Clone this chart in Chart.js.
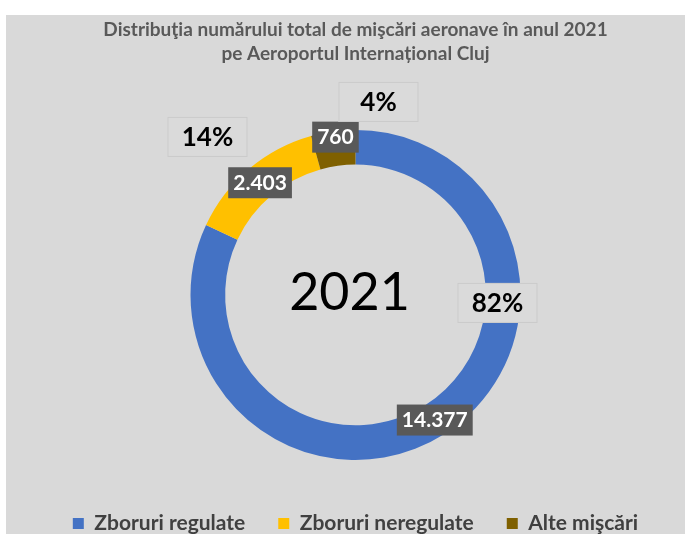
<!DOCTYPE html>
<html>
<head>
<meta charset="utf-8">
<script src="https://cdn.jsdelivr.net/npm/chart.js@4.4.0/dist/chart.umd.min.js"></script>
<style>
  html, body { margin: 0; padding: 0; background: #ffffff; }
  #wrap { position: absolute; left: 6px; top: 15px; width: 679px; height: 519px; background: #d9d9d9; }
</style>
</head>
<body>
<div id="wrap"><canvas id="chart"></canvas></div>
<script>
/* --------------- Data --------------------- */
const categories = ["Zboruri regulate", "Zboruri neregulate", "Alte mişcări"];
const movements = [14377, 2403, 760];
const yearLabel = "2021";
const sliceColors = ["#4472C4", "#FFC000", "#7F6000"];
const titleLines = [
  "Distribuţia numărului total de mişcări aeronave în anul 2021",
  "pe Aeroportul Internațional Cluj"
];

/* --------------- Helpers --------------------- */
const fmtRo = (v) => String(v).replace(/\B(?=(\d{3})+(?!\d))/g, ".");
const total = movements.reduce((a, b) => a + b, 0);
const pct = (v) => Math.round((v / total) * 100) + "%";

// where the percentage callouts sit, relative to the doughnut centre
const pctOffsets = [[142, 8], [-148, -158], [23, -193]];
// small nudges of the value boxes (Excel moved the tiny one up a bit)
const valueNudge = [[0, 0], [0, 0], [0, -12]];

/* --------------- Labels plugin --------------------- */
const donutLabels = {
  id: "donutLabels",
  afterDatasetsDraw(chart) {
    const ctx = chart.ctx;
    const meta = chart.getDatasetMeta(0);
    const cx = (chart.chartArea.left + chart.chartArea.right) / 2;
    const cy = (chart.chartArea.top + chart.chartArea.bottom) / 2;
    ctx.save();
    ctx.textAlign = "center";
    ctx.textBaseline = "middle";

    // year in the hole
    ctx.fillStyle = "#000000";
    ctx.font = "52px Lato";
    ctx.fillText(yearLabel, cx - 6, cy - 2);

    meta.data.forEach((arc, i) => {
      const v = movements[i];
      // value box on the ring
      const p = arc.tooltipPosition();
      p.x += valueNudge[i][0];
      p.y += valueNudge[i][1];
      ctx.font = "bold 21px Lato";
      const t = fmtRo(v);
      const w = ctx.measureText(t).width + 10;
      ctx.fillStyle = "#595959";
      ctx.fillRect(p.x - w / 2, p.y - 15, w, 31);
      ctx.fillStyle = "#ffffff";
      ctx.fillText(t, p.x, p.y + 1);

      // percentage callout
      const q = { x: cx + pctOffsets[i][0], y: cy + pctOffsets[i][1] };
      ctx.font = "bold 26px Lato";
      const s = pct(v);
      const bw = 80, bh = 40;
      ctx.fillStyle = "#dadada";
      ctx.fillRect(q.x - bw / 2, q.y - bh / 2, bw, bh);
      ctx.strokeStyle = "#cbcbcb";
      ctx.lineWidth = 1;
      ctx.strokeRect(q.x - bw / 2 + 0.5, q.y - bh / 2 + 0.5, bw - 1, bh - 1);
      ctx.fillStyle = "#000000";
      ctx.fillText(s, q.x, q.y + 1);
    });
    ctx.restore();
  }
};

/* --------------- Chart --------------------- */
new Chart(document.getElementById("chart"), {
  type: "doughnut",
  plugins: [donutLabels],
  data: {
    labels: categories,
    datasets: [{
      data: movements,
      backgroundColor: sliceColors,
      borderWidth: 0
    }]
  },
  options: {
    responsive: true,
    maintainAspectRatio: false,
    animation: false,
    cutout: "79%",
    radius: 165,
    layout: { padding: { left: 20, right: 0, top: 0, bottom: -10 } },
    plugins: {
      tooltip: { enabled: false },
      title: {
        display: true,
        text: titleLines,
        color: "#595959",
        font: { family: "Lato", size: 19, weight: "bold", lineHeight: 1.26 },
        padding: { top: 3, bottom: 44 }
      },
      legend: {
        position: "bottom",
        labels: {
          boxWidth: 11,
          boxHeight: 11,
          padding: 33,
          color: "#404040",
          font: { family: "Lato", size: 21, weight: "bold" }
        }
      }
    }
  }
});
</script>
</body>
</html>
